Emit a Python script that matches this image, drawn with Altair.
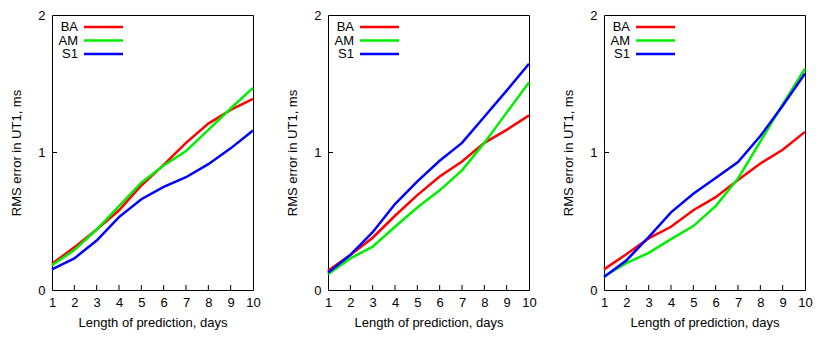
import altair as alt
import pandas as pd

days = [1, 2, 3, 4, 5, 6, 7, 8, 9, 10]
series_names = ["BA", "AM", "S1"]
colors = ["#ff0000", "#00ee00", "#0000ff"]

# panel 1
p1_BA = [0.19, 0.31, 0.44, 0.58, 0.76, 0.91, 1.07, 1.21, 1.31, 1.39]
p1_AM = [0.18, 0.29, 0.44, 0.61, 0.78, 0.905, 1.01, 1.165, 1.32, 1.47]
p1_S1 = [0.15, 0.23, 0.36, 0.53, 0.66, 0.75, 0.82, 0.915, 1.03, 1.16]
# panel 2
p2_BA = [0.14, 0.255, 0.38, 0.54, 0.69, 0.825, 0.935, 1.07, 1.165, 1.27]
p2_AM = [0.115, 0.23, 0.315, 0.46, 0.60, 0.725, 0.87, 1.07, 1.29, 1.51]
p2_S1 = [0.125, 0.255, 0.42, 0.625, 0.79, 0.94, 1.07, 1.26, 1.45, 1.645]
# panel 3
p3_BA = [0.15, 0.26, 0.375, 0.46, 0.58, 0.675, 0.80, 0.92, 1.02, 1.15]
p3_AM = [0.10, 0.195, 0.27, 0.37, 0.465, 0.61, 0.81, 1.08, 1.35, 1.61]
p3_S1 = [0.095, 0.215, 0.385, 0.565, 0.70, 0.815, 0.93, 1.12, 1.34, 1.575]

y_ticks = [0, 1, 2]

panels = [
    {"BA": p1_BA, "AM": p1_AM, "S1": p1_S1},
    {"BA": p2_BA, "AM": p2_AM, "S1": p2_S1},
    {"BA": p3_BA, "AM": p3_AM, "S1": p3_S1},
]

W, H = 201, 275
FONT = "Liberation Sans"
FS = 13

color_scale = alt.Scale(domain=series_names, range=colors)
x_scale = alt.Scale(domain=[1, 10], nice=False, zero=False)
y_scale = alt.Scale(domain=[0, 2], nice=False)

common = dict(tickSize=0, domain=False, grid=False,
              labelOverlap=False, labelFlush=False,
              labelFont=FONT, titleFont=FONT,
              labelFontSize=FS, titleFontSize=FS,
              titleFontWeight="normal",
              labelColor="black", titleColor="black")

x_axis = alt.Axis(values=days, labelExpr="'' + datum.value",
                  title="Length of prediction, days",
                  labelPadding=6, titlePadding=7, **common)
y_axis = alt.Axis(values=y_ticks, labelExpr="'' + datum.value",
                  title="RMS error in UT1, ms",
                  labelPadding=7, titlePadding=14, **common)

legend_df = pd.DataFrame({"series": series_names, "i": [0, 1, 2]})


def make_panel(vals):
    rows = []
    for s in series_names:
        for d, v in zip(days, vals[s]):
            rows.append({"day": d, "rms": v, "series": s})
    df = pd.DataFrame(rows)

    lines = alt.Chart(df).mark_line(strokeWidth=2.5).encode(
        x=alt.X("day:Q", scale=x_scale, axis=x_axis),
        y=alt.Y("rms:Q", scale=y_scale, axis=y_axis),
        color=alt.Color("series:N", scale=color_scale, legend=None),
        detail="series:N",
    )
    # inward tick marks
    xticks = alt.Chart(pd.DataFrame({"day": days[1:-1]})).mark_rule(
        color="black", strokeWidth=1
    ).encode(
        x=alt.X("day:Q", scale=x_scale, axis=x_axis),
        y=alt.value(H),
        y2=alt.value(H - 5),
    )
    yticks = alt.Chart(pd.DataFrame({"rms": y_ticks[1:-1]})).mark_rule(
        color="black", strokeWidth=1
    ).encode(
        y=alt.Y("rms:Q", scale=y_scale, axis=y_axis),
        x=alt.value(0),
        x2=alt.value(5),
    )
    # legend (label left, line right)
    leg_base = alt.Chart(legend_df).transform_calculate(py="12 + 13.5 * datum.i")
    leg_text = leg_base.mark_text(
        align="right", baseline="middle", font=FONT, fontSize=FS, color="black"
    ).encode(x=alt.value(26), y=alt.Y("py:Q", scale=None), text="series:N")
    leg_line = leg_base.transform_calculate(x1="32", x2="71").mark_rule(
        strokeWidth=2.5
    ).encode(
        x=alt.X("x1:Q", scale=None), x2="x2:Q",
        y=alt.Y("py:Q", scale=None),
        color=alt.Color("series:N", scale=color_scale, legend=None),
    )
    return alt.layer(lines, xticks, yticks, leg_text, leg_line).properties(
        width=W, height=H
    )


chart = alt.hconcat(*[make_panel(p) for p in panels], spacing=25).properties(
    padding={"left": 2, "top": 0, "right": 0, "bottom": 0},
    background="white",
).configure_view(stroke="black", strokeWidth=1)

chart.save("out.html", embed_options={"renderer": "svg", "actions": False})
